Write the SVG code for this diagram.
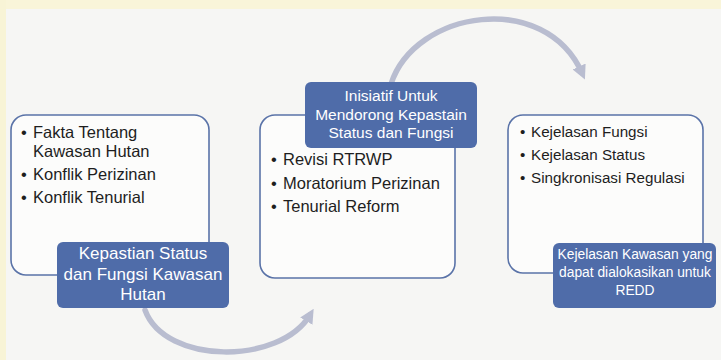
<svg xmlns="http://www.w3.org/2000/svg" width="721" height="360" viewBox="0 0 721 360">
  <defs>
    <style>
      .frame { fill: #fcfcfb; stroke: #5a73a8; stroke-width: 1.6; }
      .label { fill: #4f6ca9; }
      .ltext { fill: #ffffff; font-family: "Liberation Sans", Arial, sans-serif; text-anchor: middle; }
      .btext { fill: #1e1e1e; font-family: "Liberation Sans", Arial, sans-serif; }
      .b16 { font-size: 16.5px; }
      .b15 { font-size: 15.2px; }
      .arc { fill: none; stroke: #b9bdd0; stroke-width: 5.5; stroke-linecap: round; }
    </style>
    <marker id="arrow" viewBox="0 0 10 10" refX="5" refY="5" markerWidth="2.6" markerHeight="2.6" orient="auto" markerUnits="strokeWidth">
      <path d="M0,0 L10,5 L0,10 z" fill="#b9bdd0"/>
    </marker>
  </defs>

  <rect x="0" y="0" width="721" height="360" fill="#f6f6f4"/>
  <rect x="0" y="0" width="721" height="9" fill="#f9f5d9"/>
  <rect x="0" y="0" width="6" height="360" fill="#f8f4d6"/>

  <g id="connectors">
    <path class="arc" d="M391,84 C415,10 545,-10 582,73" marker-end="url(#arrow)"/>
    <path class="arc" d="M145,310 C165,365 280,365 310,315" marker-end="url(#arrow)"/>
  </g>

  <g id="node1">
    <rect class="frame" x="11" y="115" width="198" height="160" rx="15"/>
    <g class="btext b16">
      <text x="21" y="138">•</text>
      <text x="33" y="138">Fakta Tentang</text>
      <text x="33" y="157">Kawasan Hutan</text>
      <text x="21" y="180">•</text>
      <text x="33" y="180">Konflik Perizinan</text>
      <text x="21" y="203">•</text>
      <text x="33" y="203">Konflik Tenurial</text>
    </g>
    <rect class="label" x="57" y="242" width="172" height="66" rx="6"/>
    <text class="ltext" font-size="17" x="143" y="259">Kepastian Status</text>
    <text class="ltext" font-size="17" x="143" y="280">dan Fungsi Kawasan</text>
    <text class="ltext" font-size="17" x="143" y="300">Hutan</text>
  </g>

  <g id="node2">
    <rect class="frame" x="260" y="115" width="195" height="163" rx="15"/>
    <rect class="label" x="305" y="82" width="172" height="66" rx="6"/>
    <text class="ltext" font-size="15.5" x="391" y="101">Inisiatif Untuk</text>
    <text class="ltext" font-size="15.5" x="391" y="120">Mendorong Kepastain</text>
    <text class="ltext" font-size="15.5" x="391" y="138">Status dan Fungsi</text>
    <g class="btext b16">
      <text x="271" y="165">•</text>
      <text x="283" y="165">Revisi RTRWP</text>
      <text x="271" y="189">•</text>
      <text x="283" y="189">Moratorium Perizinan</text>
      <text x="271" y="212">•</text>
      <text x="283" y="212">Tenurial Reform</text>
    </g>
  </g>

  <g id="node3">
    <rect class="frame" x="508" y="115" width="195" height="158" rx="15"/>
    <g class="btext b15">
      <text x="520" y="137">•</text>
      <text x="531" y="137">Kejelasan Fungsi</text>
      <text x="520" y="160">•</text>
      <text x="531" y="160">Kejelasan Status</text>
      <text x="520" y="183">•</text>
      <text x="531" y="183">Singkronisasi Regulasi</text>
    </g>
    <rect class="label" x="553" y="243" width="163" height="65" rx="6"/>
    <text class="ltext" font-size="13.8" x="635" y="259">Kejelasan Kawasan yang</text>
    <text class="ltext" font-size="13.8" x="635" y="277">dapat dialokasikan untuk</text>
    <text class="ltext" font-size="13.8" x="635" y="295">REDD</text>
  </g>
</svg>
